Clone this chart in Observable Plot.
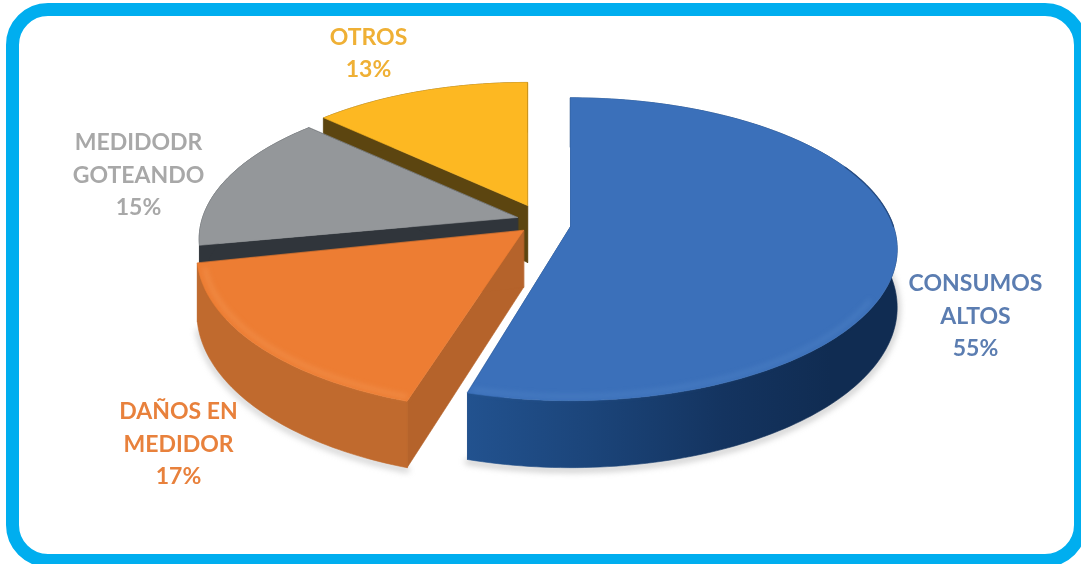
<!DOCTYPE html>
<html><head><meta charset="utf-8">
<script src="https://cdn.jsdelivr.net/npm/d3@7"></script>
<script src="https://cdn.jsdelivr.net/npm/@observablehq/plot@0.6"></script>
<style>
html,body{margin:0;padding:0;background:#fff;width:1081px;height:564px;overflow:hidden}
#frame{position:absolute;left:6px;top:3px;width:1081px;height:564px;box-sizing:border-box;border:13px solid #00aeef;border-radius:42px}
#chart{position:absolute;left:0;top:0}
#chart svg{display:block;filter:blur(.6px)}
</style></head><body>
<div id="frame"></div><div id="chart"></div>
<script>
// data
const categories = ["CONSUMOS\nALTOS", "DAÑOS EN\nMEDIDOR", "MEDIDODR\nGOTEANDO", "OTROS"];
const values = [55, 17, 15, 13];
// share lost to each slice's cut as drawn in the picture
const trimmed = [0.6, 0.3, 0, 0];
// styles
const topColors = ["#3b70ba", "#ed7d33", "#94979a", "#fdb822"];
const wallColors = ["url(#blueWall)", "#c06a2e", "#30353b", "#5c4510"];
const cutColors = ["#173c6e", "#b5632b", "#30353b", "#5c4510"];
const bevelColors = ["#6a9ad6", "#f9a468", "#a4a7aa", "#fdc64a"];
const labelColors = ["#5b7db1", "#e8813c", "#a8a8a8", "#efb035"];
// layout: exploded apex of each slice, slice scales, label anchors
const apexX = [570, 523, 517, 527];
const apexY = [226, 230, 217, 205];
const scaleR = [1, 1, 0.975, 0.95];
const scaleTilt = [1, 1.04, 1, 1];
const labelX = [975, 178, 138, 368];
const labelY = [313, 441, 172, 50];
const radius = 323, tilt = 148, persp = 0.15, depth = 57;

const TAU = 2 * Math.PI;
function pt(i, share, r, drop) {
  const t = share / 100 * TAU, X = Math.sin(t) * r * scaleR[i], Z = -Math.cos(t) * r * scaleR[i];
  const w = 1 - persp * Z;
  return {x: apexX[i] + radius * X / w, y: apexY[i] + (tilt * scaleTilt[i] * Z + drop * depth) / w};
}
function arc(i, a, b, r = 1, drop = 0) {
  const n = Math.max(2, Math.ceil(Math.abs(b - a) * 3));
  return d3.range(n + 1).map((k) => pt(i, a + (b - a) * k / n, r, drop));
}
const poly = (pts, fill) => Plot.line(pts, {x: "x", y: "y", fill, stroke: fill, strokeWidth: 0.6, curve: "linear-closed"});

const spans = [];
values.reduce((acc, v, i) => { spans.push([acc, acc + v - trimmed[i]]); return acc + v; }, 0);

const marks = [];
const defs = () => {
  const d = d3.create("svg:defs");
  d.html(`<linearGradient id="blueWall" gradientUnits="userSpaceOnUse" x1="467" y1="0" x2="830" y2="0">
    <stop offset="0" stop-color="#22528f"/><stop offset=".35" stop-color="#1b4479"/>
    <stop offset=".7" stop-color="#143460"/><stop offset="1" stop-color="#102c52"/></linearGradient>`);
  return d.node();
};
marks.push(defs);
// soft shadows under the near rims
marks.push(Plot.line(arc(0, 12, 54.4, 1, 1.03), {x: "x", y: "y", stroke: "#8c8c8c", strokeWidth: 5, strokeOpacity: 0.5, imageFilter: "blur(3px)"}));
marks.push(Plot.line(arc(1, 55, 71, 1, 1.03), {x: "x", y: "y", stroke: "#8c8c8c", strokeWidth: 5, strokeOpacity: 0.45, imageFilter: "blur(3px)"}));
// painter's order: back slices first
[3, 2, 1, 0].forEach((i) => {
  const [a, b] = spans[i];
  const s0 = pt(i, a, 1, 0), s1 = pt(i, b, 1, 0), s0d = pt(i, a, 1, 1), s1d = pt(i, b, 1, 1);
  const c = pt(i, a, 0, 0), cd = pt(i, a, 0, 1);
  marks.push(poly([c, s0, s0d, cd], cutColors[i]));
  marks.push(poly([c, s1, s1d, cd], cutColors[i]));
  marks.push(poly([...arc(i, a, b), ...arc(i, b, a, 1, 1)], wallColors[i]));
  marks.push(poly([c, ...arc(i, a, b)], topColors[i]));
  if (i === 0) {
    marks.push(Plot.line(arc(i, 33, 54.2, 0.98), {x: "x", y: "y", stroke: bevelColors[i], strokeWidth: 5, strokeOpacity: 0.22, imageFilter: "blur(2.5px)"}));
    marks.push(Plot.line(arc(i, 18, 25, 1), {x: "x", y: "y", stroke: "#1d3f70", strokeWidth: 1.4, strokeOpacity: 0.7}));
  }
  if (i === 1) {
    marks.push(Plot.line(arc(i, 55.2, 71, 0.98), {x: "x", y: "y", stroke: bevelColors[i], strokeWidth: 5, strokeOpacity: 0.3, imageFilter: "blur(2.5px)"}));
  }
});
// labels
const labels = categories.map((c, i) => ({text: `${c}\n${values[i]}%`, x: labelX[i], y: labelY[i], color: labelColors[i]}));
marks.push(Plot.text(labels, {x: "x", y: "y", text: "text", fill: "color", lineHeight: 1.41, lineAnchor: "middle", textAnchor: "middle",
  fontFamily: "Lato", fontWeight: 700, fontSize: 23}));

const chart = Plot.plot({
  width: 1081, height: 564, margin: 0, style: {background: "transparent"},
  x: {domain: [0, 1081], range: [0, 1081], axis: null},
  y: {domain: [0, 564], range: [0, 564], axis: null},
  color: {type: "identity"},
  marks
});
document.getElementById("chart").append(chart);
</script>
</body></html>
